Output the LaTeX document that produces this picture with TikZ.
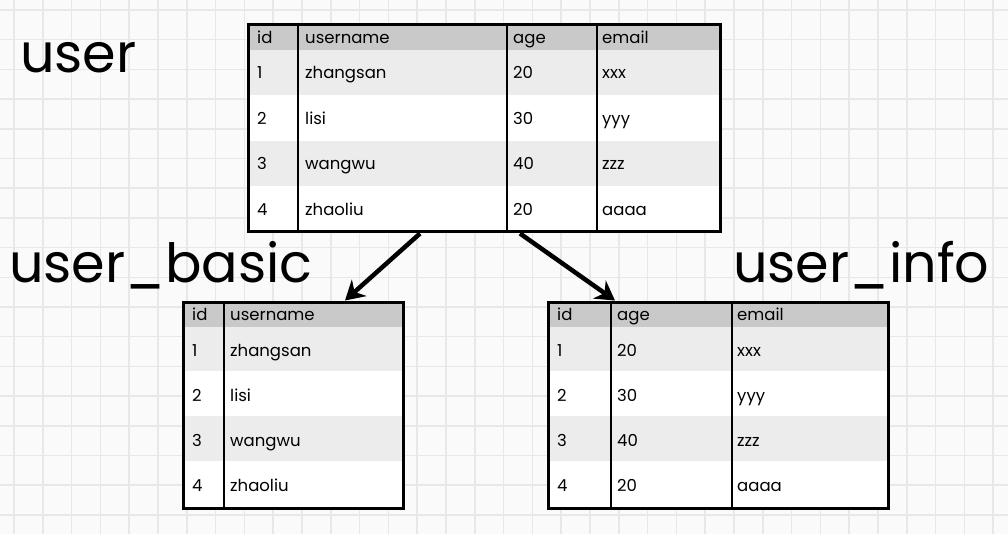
\documentclass[tikz,border=0pt]{standalone}
\usepackage{fontspec}
\setmainfont{Poppins}
\usetikzlibrary{arrows.meta}

\definecolor{gridgray}{HTML}{E8E8E8}
\definecolor{paper}{HTML}{FAFAFA}
\definecolor{headgray}{HTML}{C9C9C9}
\definecolor{rowgray}{HTML}{ECECEC}

\tikzset{
  tblbox/.style={draw, line width=3pt, inner sep=0pt},
  colline/.style={line width=2.5pt},
  cell/.style={anchor=west, inner sep=0pt, text height=0.7em, text depth=0pt,
    font=\fontsize{16.5}{18}\selectfont},
  title/.style={anchor=base west, inner sep=0pt, font=\fontsize{54}{60}\selectfont},
  arr/.style={line width=4.5pt, -{Stealth[length=19pt,width=22pt]}},
}

\begin{document}
\begin{tikzpicture}[x=1pt,y=-1pt]

  % paper and grid
  \fill[paper] (0,0) rectangle (1008,534);
  \useasboundingbox (0,0) rectangle (1008,534);
  \foreach \i in {0,...,34}
    \draw[gridgray, line width=1.5pt] ({14+28.8*\i},0) -- ({14+28.8*\i},534);
  \foreach \j in {0,...,17}
    \draw[gridgray, line width=1.5pt] (0,{10+29.7*\j}) -- (1008,{10+29.7*\j});

  % titles
  \node[title] (tuser)  at (20,73)  {user};
  \node[title] (tbasic) at (9,283)  {user\_basic};
  \node[title] (tinfo)  at (733,283) {user\_info};

  % table user
  \fill[white]    (248,25)  rectangle (720,232);
  \fill[headgray] (248,25)  rectangle (720,50);
  \fill[rowgray]  (248,50)  rectangle (720,95);
  \fill[rowgray]  (248,141) rectangle (720,186);
  \foreach \x in {298,507,597}
    \draw[colline] (\x,25) -- (\x,232);
  \node[tblbox, minimum width=472pt, minimum height=207pt] (user) at (484,128.5) {};

  \node[cell] (user-0-1) at (257,40) {id};
  \node[cell] (user-0-2) at (305,40) {username};
  \node[cell] (user-0-3) at (513,40) {age};
  \node[cell] (user-0-4) at (602,40) {email};
  \foreach \r/\a/\b/\c/\d in {1/1/zhangsan/20/xxx, 2/2/lisi/30/yyy,
                             3/3/wangwu/40/zzz, 4/4/zhaoliu/20/aaaa} {
    \node[cell] (user-\r-1) at (257,{75.5+45.5*(\r-1)}) {\a};
    \node[cell] (user-\r-2) at (305,{75.5+45.5*(\r-1)}) {\b};
    \node[cell] (user-\r-3) at (513,{75.5+45.5*(\r-1)}) {\c};
    \node[cell] (user-\r-4) at (602,{75.5+45.5*(\r-1)}) {\d};
  }

  % table user_basic
  \fill[white]    (183,302) rectangle (403,508);
  \fill[headgray] (183,302) rectangle (403,327);
  \fill[rowgray]  (183,327) rectangle (403,371);
  \fill[rowgray]  (183,416) rectangle (403,461);
  \draw[colline] (224,302) -- (224,508);
  \node[tblbox, minimum width=220pt, minimum height=206pt] (basic) at (293,405) {};

  \node[cell] (basic-0-1) at (192,317) {id};
  \node[cell] (basic-0-2) at (230,317) {username};
  \foreach \r/\a/\b in {1/1/zhangsan, 2/2/lisi, 3/3/wangwu, 4/4/zhaoliu} {
    \node[cell] (basic-\r-1) at (192,{352.5+45.3*(\r-1)}) {\a};
    \node[cell] (basic-\r-2) at (230,{352.5+45.3*(\r-1)}) {\b};
  }

  % table user_info
  \fill[white]    (548,302) rectangle (888,508);
  \fill[headgray] (548,302) rectangle (888,327);
  \fill[rowgray]  (548,327) rectangle (888,371);
  \fill[rowgray]  (548,416) rectangle (888,461);
  \foreach \x in {611,732}
    \draw[colline] (\x,302) -- (\x,508);
  \node[tblbox, minimum width=340pt, minimum height=206pt] (info) at (718,405) {};

  \node[cell] (info-0-1) at (557,317) {id};
  \node[cell] (info-0-2) at (617,317) {age};
  \node[cell] (info-0-3) at (737,317) {email};
  \foreach \r/\a/\b/\c in {1/1/20/xxx, 2/2/30/yyy, 3/3/40/zzz, 4/4/20/aaaa} {
    \node[cell] (info-\r-1) at (557,{352.5+45.3*(\r-1)}) {\a};
    \node[cell] (info-\r-2) at (617,{352.5+45.3*(\r-1)}) {\b};
    \node[cell] (info-\r-3) at (737,{352.5+45.3*(\r-1)}) {\c};
  }

  % split arrows
  \draw[arr] ([xshift=-64pt]user.south) -- ([xshift=52pt]basic.north);
  \draw[arr] ([xshift=36pt]user.south) -- ([xshift=-103pt]info.north);

\end{tikzpicture}
\end{document}
